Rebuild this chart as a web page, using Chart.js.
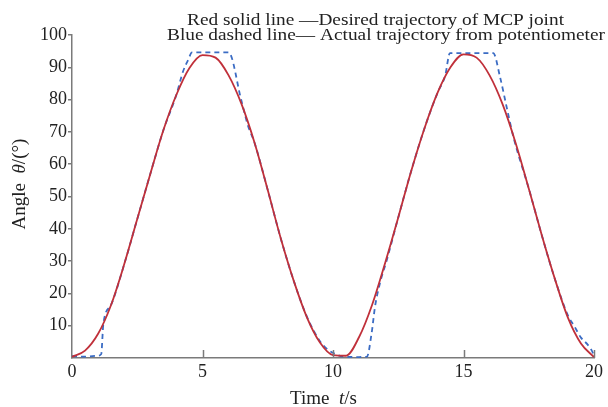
<!DOCTYPE html>
<html>
<head>
<meta charset="utf-8">
<script src="https://cdn.jsdelivr.net/npm/chart.js@4/dist/chart.umd.min.js"></script>
<style>
  html, body { margin: 0; padding: 0; background: #fff; }
  #wrap { width: 608px; height: 407px; }
</style>
</head>
<body>
<div id="wrap"><canvas id="chart" width="608" height="407"></canvas></div>
<script>
// Desired trajectory (red solid)
const timeDesired = [0, 0.5, 1, 1.5, 2, 2.5, 3, 3.5, 4, 4.5, 5, 5.5, 6, 6.5, 7, 7.5, 8, 8.5, 9, 9.5,
    10, 10.5, 11, 11.5, 12, 12.5, 13, 13.5, 14, 14.5, 15, 15.5, 16, 16.5, 17, 17.5, 18, 18.5, 19, 19.5, 20];
const angleDesired = [0.4, 2.3, 7.5, 16.5, 29, 43, 57, 70.5, 81.5, 89.8, 93.8, 93, 87.5, 78.5, 66.5, 52, 37, 23.8, 12.6, 4.8,
    0.9, 0.7, 6.5, 16.5, 29.5, 43.5, 58, 71, 82, 90, 94, 93, 87.5, 78.5, 66.5, 52.5, 38, 24.5, 12.5, 4.5, 0.3];

// Actual trajectory from potentiometer (blue dashed)
const timeActual = [0, 0.5, 1, 1.12, 1.2, 1.5, 2, 2.5, 3, 3.5, 4, 4.25, 4.45, 4.6, 6, 6.48, 6.74, 7, 7.5, 8,
    8.5, 9, 9.5, 9.8, 10.1, 10.4, 11, 11.3, 11.48, 11.61, 11.8, 12.06, 12.5, 13, 13.5, 14, 14.3, 14.48, 16.14, 16.4,
    16.65, 16.91, 17.5, 18, 18.5, 19, 19.25, 19.5, 19.75, 19.9, 20];
const angleActual = [0.6, 0.4, 0.7, 1.2, 10.5, 16.5, 29, 43, 57, 70.5, 81.5, 88.6, 92.3, 94.6, 94.6, 80, 72, 66.5, 52, 37,
    23.8, 12.8, 5.2, 2.6, 1.2, 0.4, 0.3, 0.4, 7.7, 15.9, 23.2, 30.3, 43.5, 58, 71, 82, 87.5, 94.4, 94.4, 87,
    77.8, 68.5, 52.5, 38, 24.5, 13.2, 9.8, 6.3, 4.2, 2.5, 0.8];

const xTickValues = [0, 5, 10, 15, 20];
const yTickValues = [10, 20, 30, 40, 50, 60, 70, 80, 90, 100];

const legendLines = [
    'Red solid line \u2014Desired trajectory of MCP joint',
    'Blue dashed line\u2014 Actual trajectory from potentiometer'
];

const SERIF = "'Liberation Serif', 'DejaVu Serif', serif";
const AXIS_COLOR = '#7a7a7a';
const TEXT_COLOR = '#222';

const toPoints = (xs, ys) => xs.map((x, i) => ({ x: x, y: ys[i] }));

// text squeezed/stretched horizontally to a given width (the original lettering is wide)
function fitText(ctx, txt, x, y, width) {
    const w = ctx.measureText(txt).width;
    ctx.save();
    ctx.translate(x, y);
    ctx.scale(width / w, 1);
    ctx.fillText(txt, 0, 0);
    ctx.restore();
}

// draws the two legend lines, axis titles and the inward x ticks
const annotate = {
    id: 'annotate',
    afterDraw(chart) {
        const ctx = chart.ctx;
        const xs = chart.scales.x;
        const area = chart.chartArea;
        ctx.save();

        // inward x tick marks
        ctx.strokeStyle = AXIS_COLOR;
        ctx.lineWidth = 1.5;
        xTickValues.slice(1).forEach(v => {
            const px = Math.round(xs.getPixelForValue(v)) + 0.5;
            ctx.beginPath();
            ctx.moveTo(px, area.bottom);
            ctx.lineTo(px, area.bottom - 8);
            ctx.stroke();
        });

        ctx.fillStyle = TEXT_COLOR;
        ctx.font = '17px ' + SERIF;
        ctx.textBaseline = 'alphabetic';
        ctx.textAlign = 'left';
        fitText(ctx, legendLines[0], 187, 25, 377);
        fitText(ctx, legendLines[1], 167, 39.5, 438);

        // x title: Time t/s
        const parts = [['Time  ', 'normal'], ['t', 'italic'], ['/s', 'normal']];
        let x = 290;
        parts.forEach(([txt, style]) => {
            ctx.font = style + ' 19px ' + SERIF;
            ctx.fillText(txt, x, 404);
            x += ctx.measureText(txt).width;
        });

        // y title: Angle θ/(°)
        ctx.translate(25, 184);
        ctx.rotate(-Math.PI / 2);
        const yparts = [['Angle  ', 'normal'], ['\u03b8', 'italic'], ['/(\u00b0)', 'normal']];
        let w = 0;
        yparts.forEach(([txt, style]) => {
            ctx.font = style + ' 19px ' + SERIF;
            w += ctx.measureText(txt).width;
        });
        let yx = -w / 2;
        yparts.forEach(([txt, style]) => {
            ctx.font = style + ' 19px ' + SERIF;
            ctx.fillText(txt, yx, 0);
            yx += ctx.measureText(txt).width;
        });
        ctx.restore();
    }
};

new Chart(document.getElementById('chart'), {
    type: 'line',
    data: {
        datasets: [
            {
                label: 'Desired trajectory of MCP joint',
                data: toPoints(timeDesired, angleDesired),
                borderColor: '#c0303a',
                borderWidth: 1.8,
                pointRadius: 0,
                cubicInterpolationMode: 'monotone'
            },
            {
                label: 'Actual trajectory from potentiometer',
                data: toPoints(timeActual, angleActual),
                borderColor: '#3b6cc4',
                borderWidth: 1.8,
                borderDash: [5, 4],
                pointRadius: 0,
                cubicInterpolationMode: 'monotone'
            }
        ]
    },
    options: {
        responsive: false,
        animation: false,
        layout: { padding: { top: 35, right: 14, left: 0, bottom: 0 } },
        plugins: {
            legend: { display: false },
            tooltip: { enabled: false }
        },
        scales: {
            x: {
                type: 'linear',
                min: 0,
                max: 20,
                afterBuildTicks: s => { s.ticks = xTickValues.map(v => ({ value: v })); },
                afterFit: s => { s.height = 49; },
                grid: { drawOnChartArea: false, drawTicks: false },
                border: { color: AXIS_COLOR, width: 1.5 },
                ticks: {
                    padding: 3,
                    color: TEXT_COLOR,
                    font: { family: SERIF, size: 18 },
                    maxRotation: 0
                }
            },
            y: {
                min: 0,
                max: 100,
                afterBuildTicks: s => { s.ticks = yTickValues.map(v => ({ value: v })); },
                afterFit: s => { s.width = 72; },
                grid: { drawOnChartArea: false, drawTicks: true, tickLength: 4, color: AXIS_COLOR, lineWidth: 1.5 },
                border: { color: AXIS_COLOR, width: 1.5 },
                ticks: {
                    padding: 1,
                    color: TEXT_COLOR,
                    font: { family: SERIF, size: 18 }
                }
            }
        }
    },
    plugins: [annotate]
});
</script>
</body>
</html>
